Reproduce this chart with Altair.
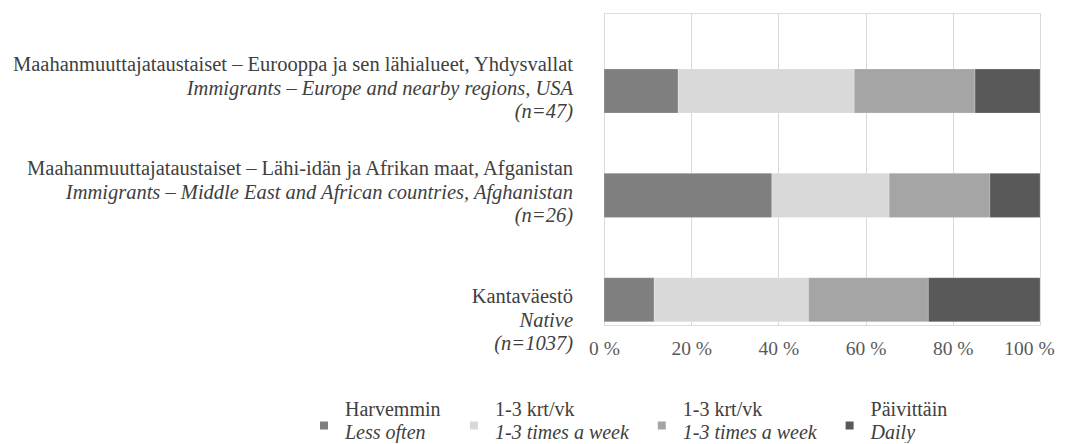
import altair as alt
import pandas as pd

# ---- data -------------------------------------------------------------
group_fi = [
    "Maahanmuuttajataustaiset – Eurooppa ja sen lähialueet, Yhdysvallat",
    "Maahanmuuttajataustaiset – Lähi-idän ja Afrikan maat, Afganistan",
    "Kantaväestö",
]
group_en = [
    "Immigrants – Europe and nearby regions, USA",
    "Immigrants – Middle East and African countries, Afghanistan",
    "Native",
]
group_n = ["(n=47)", "(n=26)", "(n=1037)"]

cat_keys = ["c1", "c2", "c3", "c4"]
cat_fi = ["Harvemmin", "1-3 krt/vk", "1-3 krt/vk", "Päivittäin"]
cat_en = ["Less often", "1-3 times a week", "1-3 times a week", "Daily"]

share_less = [17.0, 38.5, 11.5]
share_week_a = [40.4, 26.9, 35.4]
share_week_b = [27.7, 23.1, 27.5]
share_daily = [14.9, 11.5, 25.6]

tick_values = [0, 20, 40, 60, 80, 100]

# ---- styling ------------------------------------------------------------
cat_colors = ["#7f7f7f", "#d9d9d9", "#a5a5a5", "#595959"]
FONT = "Liberation Serif"
TXT = "#404040"
LH = 23.5
# the last category label carries two blank lines above it in the original
blank_lines_before = {"Kantaväestö": 2}

series = [share_less, share_week_a, share_week_b, share_daily]
rows = []
for gi, g in enumerate(group_fi):
    for ci, k in enumerate(cat_keys):
        rows.append({"group": g, "cat": k, "order": ci, "value": series[ci][gi]})
bars_df = pd.DataFrame(rows)

# label lines: slot = line position relative to the band centre
lab_rows = []
for g, e, n in zip(group_fi, group_en, group_n):
    lines = [(g, False), (e, True), (n, True)]
    nb = blank_lines_before.get(g, 0)
    total = nb + len(lines)
    for i, (t, it) in enumerate(lines):
        slot = (nb + i) - (total - 1) / 2
        lab_rows.append({"group": g, "text": t, "slot": slot, "italic": it})
lab_df = pd.DataFrame(lab_rows)
slots = sorted(set(lab_df["slot"]))

leg_df = pd.DataFrame({
    "key": cat_keys,
    "line1": cat_fi,
    "line2": cat_en,
    "order": list(range(len(cat_keys))),
})

yscale = alt.Scale(domain=group_fi, paddingInner=0.578, paddingOuter=0.284, align=0.945)
Y = alt.Y("group:N", sort=group_fi, scale=yscale, axis=None)
cscale = alt.Scale(domain=cat_keys, range=cat_colors)

bars = alt.Chart(bars_df).mark_bar(stroke="#ffffff", strokeWidth=0.4, strokeOpacity=0.5).encode(
    x=alt.X(
        "value:Q",
        stack="zero",
        scale=alt.Scale(domain=[0, 100], nice=False),
        axis=alt.Axis(
            values=tick_values,
            labelExpr="datum.value + ' %'",
            grid=True, gridColor="#d9d9d9", gridWidth=1,
            ticks=False, domain=False, labelPadding=14, labelFlush=False,
            labelOffset={"condition": {"test": "datum.value == 100", "value": -11}, "value": 0},
            labelFont=FONT, labelFontSize=19.5, labelColor="#595959",
            title=None,
        ),
    ),
    y=Y,
    color=alt.Color("cat:N", scale=cscale, legend=None),
    order=alt.Order("order:Q"),
)

label_layers = []
for s in slots:
    for it in (False, True):
        sub = lab_df[(lab_df["slot"] == s) & (lab_df["italic"] == it)]
        if sub.empty:
            continue
        label_layers.append(
            alt.Chart(sub).mark_text(
                align="right", baseline="middle", font=FONT, fontSize=20.5,
                fontStyle="italic" if it else "normal", color=TXT,
                dx=-31, dy=float(s * LH - 2.5),
            ).encode(x=alt.datum(0), y=Y, text="text:N")
        )

legend_base = alt.Chart(leg_df).transform_calculate(
    w="87 + 6.3 * max(length(datum.line1), length(datum.line2))"
).transform_window(
    cum="sum(w)", sort=[alt.SortField("order")], frame=[None, 0]
).transform_calculate(
    sx="datum.cum - datum.w - 280", tx="datum.cum - datum.w - 259"
)

leg_sym = legend_base.mark_square(size=64, opacity=1).encode(
    x=alt.X("sx:Q", scale=None, axis=None),
    y=alt.value(412.5),
    color=alt.Color("key:N", scale=cscale, legend=None),
)
leg_line1 = legend_base.mark_text(
    align="left", baseline="middle", font=FONT, fontSize=20, color=TXT,
).encode(x=alt.X("tx:Q", scale=None, axis=None), y=alt.value(397), text="line1:N")
leg_line2 = legend_base.mark_text(
    align="left", baseline="middle", font=FONT, fontSize=20, fontStyle="italic", color=TXT,
).encode(x=alt.X("tx:Q", scale=None, axis=None), y=alt.value(420), text="line2:N")

chart = alt.layer(bars, *label_layers, leg_sym, leg_line1, leg_line2).properties(
    width=436,
    height=312,
    autosize=alt.AutoSizeParams(type="none"),
    padding={"left": 596, "top": 5, "right": 18, "bottom": 118},
).configure_view(stroke=None).configure(background="#ffffff")

chart.save("out.html", embed_options={"renderer": "svg", "actions": False})
